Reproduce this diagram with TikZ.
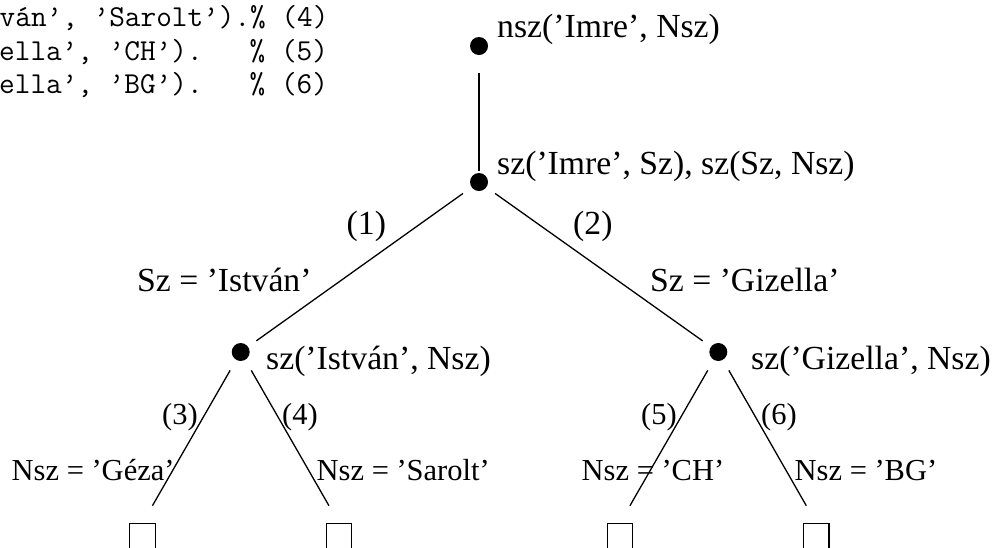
\documentclass[tikz,border=0pt]{standalone}
\usepackage{fontspec}
\setmainfont{Liberation Serif}
\begin{document}
\begin{tikzpicture}[x=1pt,y=-1pt,
  dot/.style={circle,fill=black,inner sep=0pt,minimum size=18pt},
  leaf/.style={draw,line width=1.1pt,inner sep=0pt,minimum width=25.5pt,minimum height=25.5pt,anchor=north},
  conn/.style={line width=1.3pt},
  lab/.style={anchor=base west,inner sep=0pt,font=\fontsize{33.7}{40}\selectfont},
  labs/.style={anchor=base west,inner sep=0pt,font=\fontsize{30.5}{36}\selectfont},
  code/.style={anchor=base west,inner sep=0pt,font=\fontsize{30.4}{35}\ttfamily\frenchspacing}]
\useasboundingbox (0,0) rectangle (996,547);
\clip (0,0) rectangle (996,547);

% code listing (cropped)
\node[code] (l1) at (-0.5,26.5) {ván’, ’Sarolt’).\% (4)};
\node[code] (l2) at (-1,60) {ella’, ’CH’).\ \ \ \% (5)};
\node[code] (l3) at (-1,93.5) {ella’, ’BG’).\ \ \ \% (6)};

% tree nodes
\node[dot] (n0) at (479,46) {};
\node[dot] (n1) at (479,182) {};
\node[dot] (n2) at (240.7,352) {};
\node[dot] (n3) at (718.3,352) {};
\node[leaf] (b1) at (142.5,523) {};
\node[leaf] (b2) at (338.9,523) {};
\node[leaf] (b3) at (620,523) {};
\node[leaf] (b4) at (816.2,523) {};

% connectors
\draw[conn,shorten <=18pt,shorten >=2pt] (n0) -- (n1);
\draw[conn,shorten <=10.5pt,shorten >=10pt] (n1) -- (n2);
\draw[conn,shorten <=10.5pt,shorten >=10pt] (n1) -- (n3);
\draw[conn,shorten <=12pt,shorten >=20pt] (n2) -- (b1.north);
\draw[conn,shorten <=12pt,shorten >=20pt] (n2) -- (b2.north);
\draw[conn,shorten <=12pt,shorten >=20pt] (n3) -- (b3.north);
\draw[conn,shorten <=12pt,shorten >=20pt] (n3) -- (b4.north);

% labels
\node[lab] (t0) at (497,37) {nsz(’Imre’, Nsz)};
\node[lab] (t1) at (497,174) {sz(’Imre’, Sz), sz(Sz, Nsz)};
\node[lab] (e1) at (346.5,234) {(1)};
\node[lab] (e2) at (573,234) {(2)};
\node[lab] (c1) at (137,291) {Sz = ’István’};
\node[lab] (c2) at (650,291) {Sz = ’Gizella’};
\node[lab] (t2) at (266,369) {sz(’István’, Nsz)};
\node[lab] (t3) at (751,369) {sz(’Gizella’, Nsz)};
\node[labs] (e3) at (162,424) {(3)};
\node[labs] (e4) at (282,424) {(4)};
\node[labs] (e5) at (641,424) {(5)};
\node[labs] (e6) at (761,424) {(6)};
\node[labs] (c3) at (11.5,480) {Nsz = ’Géza’};
\node[labs] (c4) at (316.5,480) {Nsz = ’Sarolt’};
\node[labs] (c5) at (581.5,480) {Nsz = ’CH’};
\node[labs] (c6) at (794.5,480) {Nsz = ’BG’};
\end{tikzpicture}
\end{document}
